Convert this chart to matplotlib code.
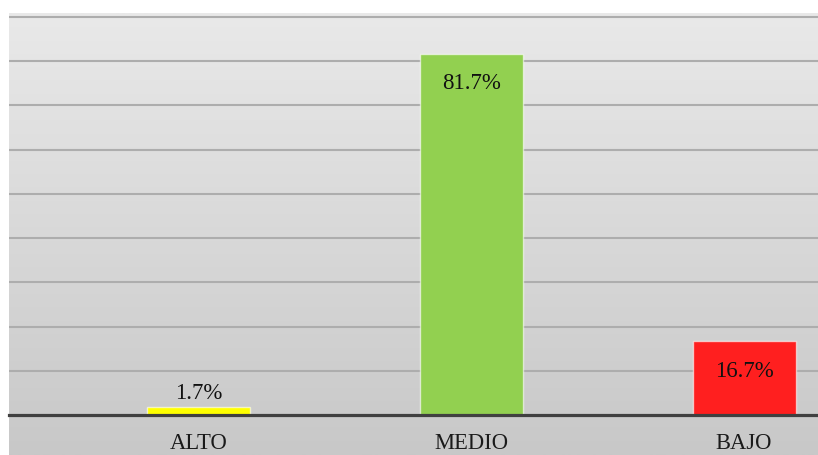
import matplotlib.pyplot as plt
import numpy as np

categorias = ['ALTO', 'MEDIO', 'BAJO']
porcentajes = [1.7, 81.7, 16.7]
etiquetas = ['1.7%', '81.7%', '16.7%']
colores = ['#ffff00', '#92d050', '#ff1f1f']

fig = plt.figure(figsize=(8.18, 4.55), dpi=100)

# fondo degradado gris (como el area del grafico de Excel)
fondo = fig.add_axes([9 / 818, 0, 1 - 9 / 818, 1 - 13 / 455])
grad = np.linspace(0, 1, 256).reshape(-1, 1)
fondo.imshow(grad, aspect='auto', cmap=plt.matplotlib.colors.LinearSegmentedColormap.from_list(
    'g', ['#e9e9e9', '#c8c8c8']), extent=[0, 1, 0, 1], origin='upper')
fondo.axis('off')

ax = fig.add_axes([9 / 818, 40 / 455, 1 - 9 / 818, 402 / 455])
ax.patch.set_alpha(0)
x = np.arange(len(categorias))
ax.bar(x, porcentajes, width=0.378, color=colores, edgecolor=(1, 1, 1, 0.6),
       linewidth=1, zorder=3)

ax.set_xlim(-0.695, 2.271)
ax.set_ylim(0, 90.9)
ax.set_yticks(np.arange(10, 91, 10))
ax.yaxis.grid(True, color='#adadad', linewidth=1.5, zorder=0)
ax.set_axisbelow(True)
ax.tick_params(left=False, bottom=False, labelleft=False, labelbottom=False)
for s in ['top', 'right', 'left']:
    ax.spines[s].set_visible(False)
ax.spines['bottom'].set_color('#404040')
ax.spines['bottom'].set_linewidth(2.3)
ax.spines['bottom'].set_zorder(4)

fuente = 'Liberation Serif'
for i, cat in enumerate(categorias):
    ax.annotate(cat, xy=(i, 0), xycoords=('data', 'axes fraction'),
                xytext=(0, -24.8), textcoords='offset points',
                ha='center', va='baseline', fontsize=16.3, family=fuente,
                color='#1a1a1a', annotation_clip=False)

for i, (v, t) in enumerate(zip(porcentajes, etiquetas)):
    if v < 5:
        off = 5.8
    else:
        off = -25.5
    ax.annotate(t, xy=(i, v), xytext=(0, off), textcoords='offset points',
                ha='center', va='baseline', fontsize=16.5, family=fuente,
                color='#111111', zorder=5)

fig.savefig('out.png', dpi=100)
